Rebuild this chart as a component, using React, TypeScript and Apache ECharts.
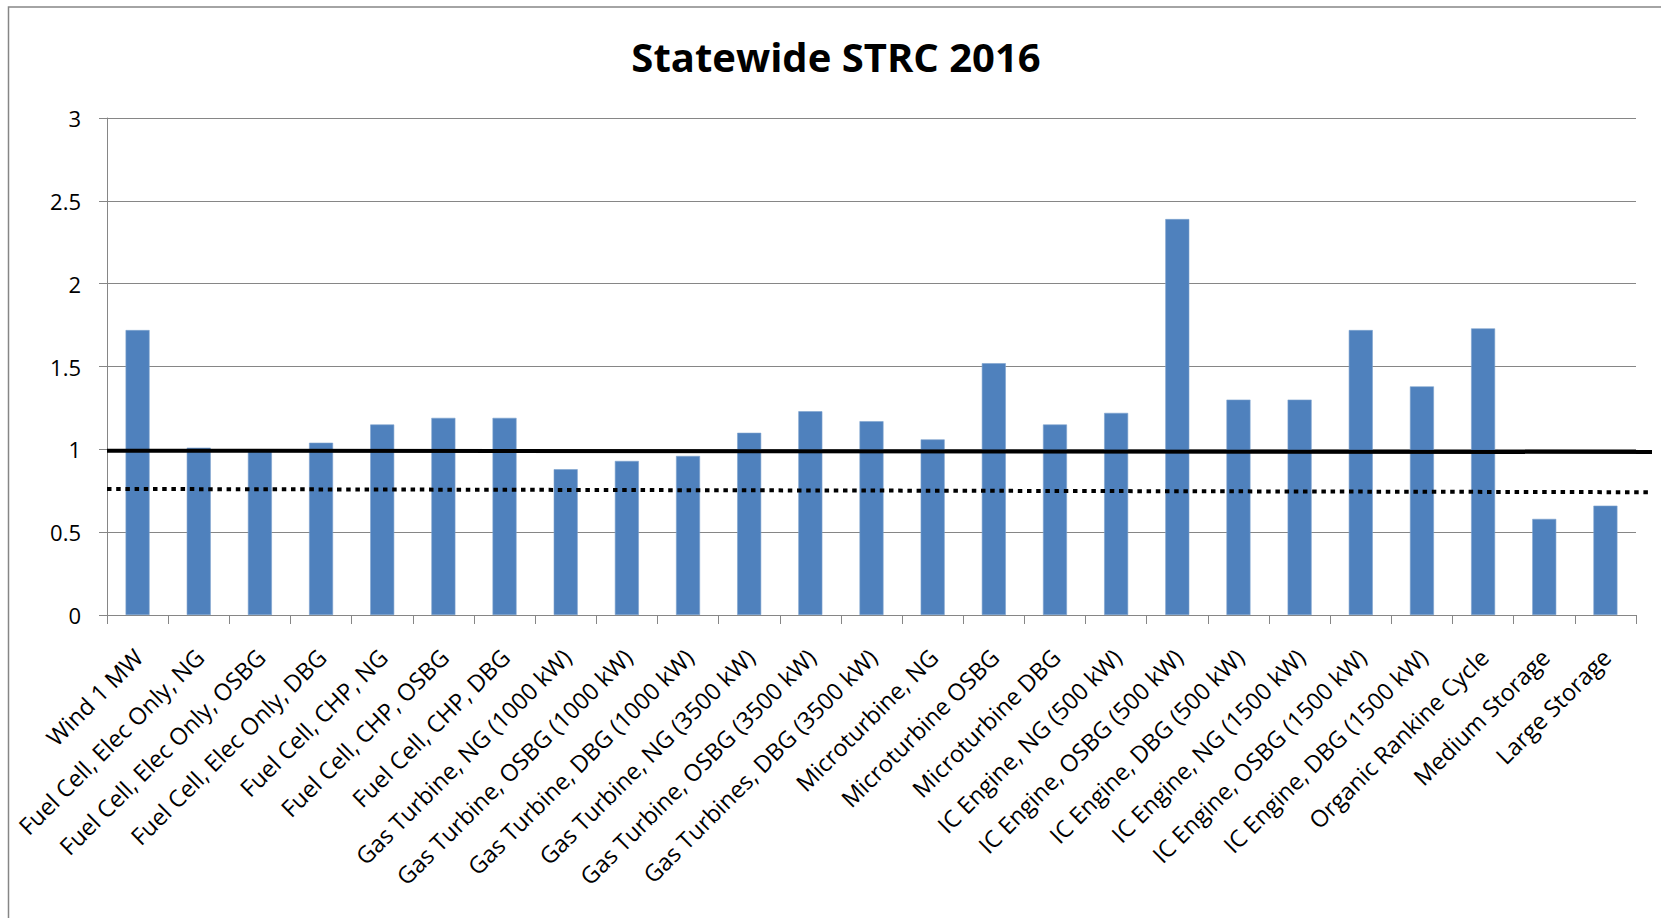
import React, { useEffect, useRef } from "react";
import * as echarts from "echarts";

const chartTitle = "Statewide STRC 2016";

const categories = [
  "Wind 1 MW",
  "Fuel Cell, Elec Only, NG",
  "Fuel Cell, Elec Only, OSBG",
  "Fuel Cell, Elec Only, DBG",
  "Fuel Cell, CHP, NG",
  "Fuel Cell, CHP, OSBG",
  "Fuel Cell, CHP, DBG",
  "Gas Turbine, NG (1000 kW)",
  "Gas Turbine, OSBG (1000 kW)",
  "Gas Turbine, DBG (1000 kW)",
  "Gas Turbine, NG (3500 kW)",
  "Gas Turbine, OSBG (3500 kW)",
  "Gas Turbines, DBG (3500 kW)",
  "Microturbine, NG",
  "Microturbine OSBG",
  "Microturbine DBG",
  "IC Engine, NG (500 kW)",
  "IC Engine, OSBG (500 kW)",
  "IC Engine, DBG (500 kW)",
  "IC Engine, NG (1500 kW)",
  "IC Engine, OSBG (1500 kW)",
  "IC Engine, DBG (1500 kW)",
  "Organic Rankine Cycle",
  "Medium Storage",
  "Large Storage",
];

const strcValues = [
  1.72, 1.01, 0.99, 1.04, 1.15, 1.19, 1.19, 0.88, 0.93, 0.96, 1.1, 1.23, 1.17,
  1.06, 1.52, 1.15, 1.22, 2.39, 1.3, 1.3, 1.72, 1.38, 1.73, 0.58, 0.66,
];

// reference lines: [value at left end, value at right end]
const solidLine = [0.992, 0.984];
const dottedLine = [0.761, 0.741];

const yTicks = { min: 0, max: 3, interval: 0.5 };

const FONT = "'Open Sans', 'Noto Sans', sans-serif";

export default function App() {
  const ref = useRef<HTMLDivElement>(null);

  useEffect(() => {
    if (!ref.current) return;
    const chart = echarts.init(ref.current, null, { renderer: "svg" });
    const grey = "#868686";
    const option: any = {
      animation: false,
      backgroundColor: "#ffffff",
      textStyle: { fontFamily: FONT },
      graphic: [
        {
          type: "rect",
          shape: { x: 8.5, y: 7, width: 1700, height: 1000 },
          style: { fill: "none", stroke: grey, lineWidth: 1.5 },
          silent: true,
        },
        {
          type: "text",
          x: 836,
          y: 56,
          style: {
            text: chartTitle,
            fill: "#000",
            font: `bold 40px ${FONT}`,
            textAlign: "center",
            textVerticalAlign: "middle",
          },
        },
      ],
      grid: [
        { left: 107, right: 25, top: 118, bottom: 303 },
        { left: 108, right: 24, top: 118, bottom: 303 },
        { left: 107, right: 9, top: 118, bottom: 303 },
      ],
      xAxis: [
        {
          type: "category",
          gridIndex: 0,
          data: categories,
          axisLine: { lineStyle: { color: grey, width: 1 } },
          axisTick: { show: true, interval: 0, length: 9, lineStyle: { color: grey } },
          axisLabel: { show: false },
        },
        {
          type: "category",
          gridIndex: 1,
          data: categories,
          axisLine: { show: false },
          axisTick: { show: false },
          axisLabel: {
            show: true,
            interval: 0,
            rotate: 45,
            margin: 38,
            fontSize: 23.5,
            color: "#000",
            fontFamily: FONT,
          },
        },
        {
          type: "value",
          gridIndex: 2,
          min: 0,
          max: 1,
          show: false,
        },
      ],
      yAxis: [
        {
          type: "value",
          gridIndex: 0,
          min: yTicks.min,
          max: yTicks.max,
          interval: yTicks.interval,
          axisLine: { show: true, lineStyle: { color: grey, width: 1 } },
          axisTick: { show: true, length: 8, lineStyle: { color: grey } },
          axisLabel: { margin: 26, fontSize: 22, color: "#000", fontFamily: FONT },
          splitLine: { show: true, lineStyle: { color: grey, width: 1 } },
        },
        { type: "value", gridIndex: 1, min: 0, max: 3, show: false },
        { type: "value", gridIndex: 2, min: 0, max: 3, show: false },
      ],
      series: [
        {
          type: "bar",
          xAxisIndex: 0,
          yAxisIndex: 0,
          data: strcValues,
          barWidth: 24,
          itemStyle: { color: "#4F81BD", borderColor: "#7EA2CF", borderWidth: 0.6 },
        },
        {
          type: "line",
          xAxisIndex: 2,
          yAxisIndex: 2,
          data: [
            [0, solidLine[0]],
            [1, solidLine[1]],
          ],
          symbol: "none",
          lineStyle: { color: "#000", width: 4, cap: "butt" },
          z: 5,
        },
        {
          type: "line",
          xAxisIndex: 2,
          yAxisIndex: 2,
          data: [
            [0, dottedLine[0]],
            [1, dottedLine[1]],
          ],
          symbol: "none",
          lineStyle: { color: "#000", width: 4, type: [4.5, 4.7], cap: "butt" },
          z: 5,
        },
      ],
    };
    chart.setOption(option);
    return () => chart.dispose();
  }, []);

  return (
    <div
      ref={ref}
      style={{ position: "absolute", left: 0, top: 0, width: 1661, height: 918 }}
    />
  );
}
